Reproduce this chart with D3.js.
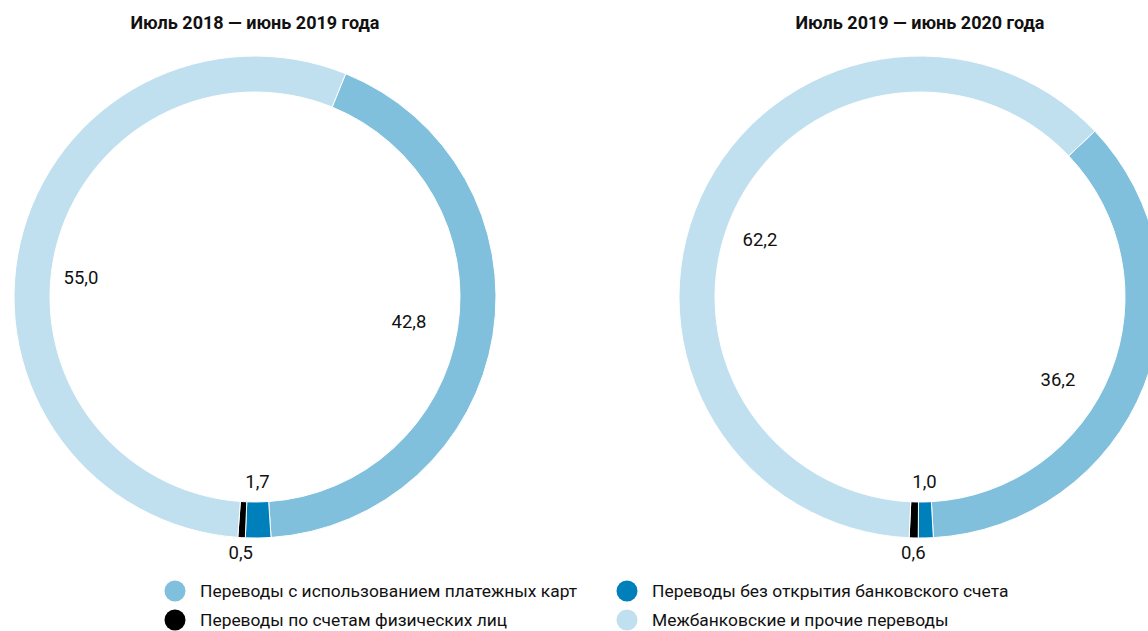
<!DOCTYPE html>
<html><head><meta charset="utf-8">
<script src="https://cdn.jsdelivr.net/npm/d3@7"></script>
<style>
html,body{margin:0;padding:0;background:#fff;}
text{font-family:Roboto,"Noto Sans",sans-serif;}
</style></head>
<body>
<svg id="chart" width="1148" height="631"></svg>
<script>
// ---- data ----
const categories = [
  "Переводы с использованием платежных карт",
  "Переводы без открытия банковского счета",
  "Переводы по счетам физических лиц",
  "Межбанковские и прочие переводы"
];
const periods = ["Июль 2018 — июнь 2019 года", "Июль 2019 — июнь 2020 года"];
const values2019 = [42.8, 1.7, 0.5, 55.0];
const values2020 = [36.2, 1.0, 0.6, 62.2];
const colors = ["#80c0dc", "#0080bb", "#000000", "#c0e0ef"];

// ---- layout ----
const svg = d3.select("#chart");
const outerR = 241, innerR = 205;
const charts = [
  {title: periods[0], values: values2019, cx: 255, cy: 297, start: 22.1,
   big: {0: [154, 25], 3: [-174, -19]}},
  {title: periods[1], values: values2020, cx: 920, cy: 297, start: 46.5,
   big: {0: [138, 83], 3: [-160, -57]}}
];
const fmt = v => d3.format(".1f")(v).replace(".", ",");
const arc = d3.arc().innerRadius(innerR).outerRadius(outerR);

charts.forEach(c => {
  const s = c.start * Math.PI / 180;
  const pie = d3.pie().sort(null).value(d => d)
    .startAngle(s).endAngle(s + 2 * Math.PI);
  const arcs = pie(c.values);
  const g = svg.append("g").attr("transform", `translate(${c.cx},${c.cy})`);
  g.selectAll("path").data(arcs).join("path")
    .attr("d", arc)
    .attr("fill", (d, i) => colors[i])
    .attr("stroke", "#fff")
    .attr("stroke-width", 1);

  svg.append("text")
    .attr("x", c.cx).attr("y", 29)
    .attr("text-anchor", "middle")
    .attr("font-size", 18).attr("font-weight", 700)
    .attr("fill", "#111")
    .text(c.title);

  arcs.forEach((d, i) => {
    let x, y;
    const mid = (d.startAngle + d.endAngle) / 2;
    if (c.big[i]) {
      x = c.big[i][0]; y = c.big[i][1];
    } else {
      const r = i === 1 ? 185 : 256;
      x = r * Math.sin(mid); y = -r * Math.cos(mid);
    }
    g.append("text")
      .attr("x", x).attr("y", y)
      .attr("text-anchor", "middle")
      .attr("dominant-baseline", "central")
      .attr("font-size", 18.5)
      .attr("fill", "#111")
      .text(fmt(d.data));
  });
});

// legend
const legendItems = [
  {i: 0, x: 175, y: 591}, {i: 1, x: 627, y: 591},
  {i: 2, x: 175, y: 620}, {i: 3, x: 627, y: 620}
];
const lg = svg.append("g");
legendItems.forEach(it => {
  lg.append("circle").attr("cx", it.x).attr("cy", it.y).attr("r", 10.5)
    .attr("fill", colors[it.i]);
  lg.append("text").attr("x", it.x + 25).attr("y", it.y)
    .attr("dominant-baseline", "central")
    .attr("font-size", 17.4).attr("fill", "#111")
    .text(categories[it.i]);
});
</script>
</body></html>
